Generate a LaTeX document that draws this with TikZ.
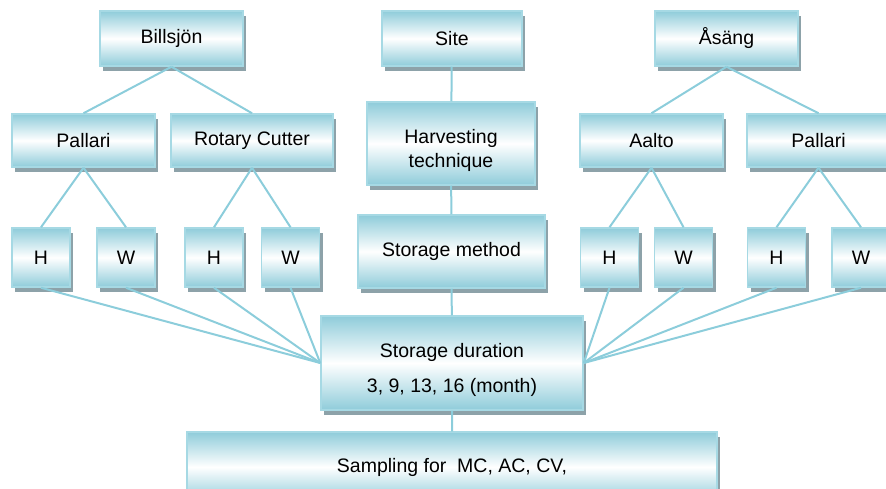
\documentclass[tikz,border=0pt]{standalone}
\usepackage{fontspec}
\setmainfont{Liberation Sans}
\definecolor{TCyan}{HTML}{8FCCDA}
\definecolor{TEdge}{HTML}{A6D9E4}
\definecolor{TLink}{HTML}{8CCDDB}
\definecolor{TShade}{HTML}{8DA2A9}

\tikzset{
  box/.style={draw=TEdge,line width=1.5pt,
    preaction={draw=none,fill=TShade,transform canvas={xshift=3pt,yshift=-5pt}},
    shade,shading=axis,top color=TCyan,bottom color=TCyan,middle color=white,
    minimum width=143pt,minimum height=55pt,inner sep=0pt,align=center,
    font=\fontsize{19.5}{24}\selectfont},
  hw/.style={box,minimum width=58pt,minimum height=59pt},
  link/.style={TLink,line width=2pt},
}

\begin{document}
\begin{tikzpicture}[x=1pt,y=-1pt]
    \clip (0,0) rectangle (886,489);
    % top row
    \node[box] (bill) at (171.5,38.5) {Billsj\"on};
    \node[box,minimum width=140pt] (site) at (452,38.5) {Site};
    \node[box] (asang) at (726.5,38.5) {\AA s\"ang};
    % harvesting machines
    \node[box,minimum height=53pt] (pallL) at (83.5,140.5) {Pallari};
    \node[box,minimum height=53pt,minimum width=162pt] (rot) at (252,140.5) {Rotary Cutter};
    \node[box,minimum width=168pt,minimum height=83pt] (harv) at (451,143.5)
      {\rule{0pt}{28pt}Harvesting\\technique};
    \node[box,minimum height=53pt] (aalto) at (651.5,140.5) {Aalto};
    \node[box,minimum height=53pt] (pallR) at (818.5,140.5) {Pallari};
    % storage piles
    \node[hw] (h1) at (41,257.5) {H};
    \node[hw] (w1) at (126,257.5) {W};
    \node[hw] (h2) at (214,257.5) {H};
    \node[hw] (w2) at (290.5,257.5) {W};
    \node[box,minimum width=187pt,minimum height=73pt] (meth) at (451.5,251.5) {Storage method};
    \node[hw] (h3) at (609.5,257.5) {H};
    \node[hw] (w3) at (683.5,257.5) {W};
    \node[hw] (h4) at (776.5,257.5) {H};
    \node[hw] (w4) at (861,257.5) {W};
    % duration and sampling
    \node[box,minimum width=262pt,minimum height=94pt] (dur) at (452,363)
      {\rule{0pt}{28pt}Storage duration\\[11pt]3, 9, 13, 16 (month)};
    \node[box,minimum width=530pt,minimum height=70pt] (samp) at (452,467) {Sampling for~ MC, AC, CV,};
    % connectors
    \draw[link] (bill.south) -- (pallL.north);
    \draw[link] (bill.south) -- (rot.north);
    \draw[link] (asang.south) -- (aalto.north);
    \draw[link] (asang.south) -- (pallR.north);
    \draw[link] (pallL.south) -- (h1.north);
    \draw[link] (pallL.south) -- (w1.north);
    \draw[link] (rot.south) -- (h2.north);
    \draw[link] (rot.south) -- (w2.north);
    \draw[link] (aalto.south) -- (h3.north);
    \draw[link] (aalto.south) -- (w3.north);
    \draw[link] (pallR.south) -- (h4.north);
    \draw[link] (pallR.south) -- (w4.north);
    \draw[link] (site) -- (harv) -- (meth) -- (dur) -- (samp);
    \foreach \n in {h1,w1,h2,w2}{\draw[link] (\n.south) -- (dur.west);}
    \foreach \n in {h3,w3,h4,w4}{\draw[link] (\n.south) -- (dur.east);}
  \end{tikzpicture}
\end{document}
